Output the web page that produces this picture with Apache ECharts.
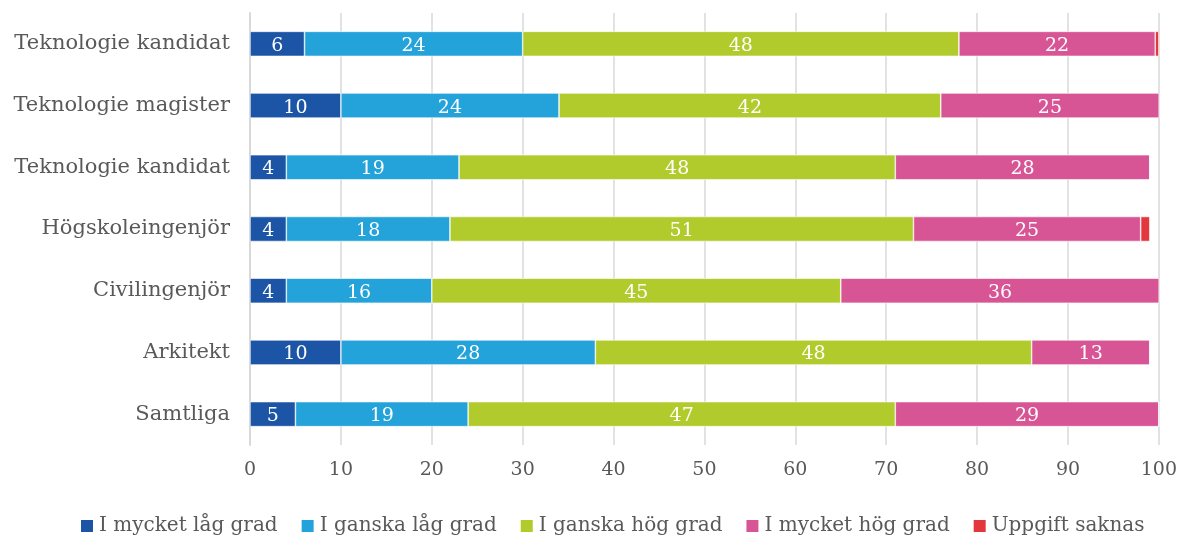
<!DOCTYPE html>
<html>
<head>
    <meta charset="utf-8">
    <title></title>
    <script src="https://cdn.jsdelivr.net/npm/echarts@6/dist/echarts.min.js"></script>
    <style>
        html, body { margin: 0; padding: 0; background: #fff; }
        #main { width: 1180px; height: 537px; }
    </style>
</head>
<body>
<div id="main"></div>
<script type="text/javascript">
    var categories = ['Teknologie kandidat', 'Teknologie magister', 'Teknologie kandidat', 'Högskoleingenjör', 'Civilingenjör', 'Arkitekt', 'Samtliga'];
    var seriesNames = ['I mycket låg grad', 'I ganska låg grad', 'I ganska hög grad', 'I mycket hög grad', 'Uppgift saknas'];
    var mycketLag = [6, 10, 4, 4, 4, 10, 5];
    var ganskaLag = [24, 24, 19, 18, 16, 28, 19];
    var ganskaHog = [48, 42, 48, 51, 45, 48, 47];
    var mycketHog = [21.6, 25, 28, 25, 36, 13, 29];
    var saknas = [0.4, 0, 0, 1, 0, 0, 0];
    var xTicks = [0, 10, 20, 30, 40, 50, 60, 70, 80, 90, 100];

    var colors = ['#1c55a6', '#24a2da', '#b2cb2c', '#d85595', '#e3363d'];
    var font = 'DejaVu Serif';

    function makeSeries(name, data, color, showLabel) {
        return {
            name: name,
            type: 'bar',
            stack: 'total',
            data: data,
            barWidth: 25,
            clip: true,
            itemStyle: { color: color, borderColor: '#fff', borderWidth: 0.6 },
            label: {
                show: showLabel,
                position: 'inside',
                color: '#fff',
                fontFamily: font,
                fontSize: 19,
                offset: [0, 2],
                formatter: function (p) { return Math.round(p.value); }
            }
        };
    }

    var chart = echarts.init(document.getElementById('main'));
    var option = {
        animation: false,
        grid: { left: 250, right: 21, top: 13, bottom: 92 },
        legend: {
            data: seriesNames,
            top: 511,
            left: 74,
            itemWidth: 14,
            itemHeight: 14,
            itemGap: 22,
            icon: 'rect',
            textStyle: { fontFamily: font, fontSize: 20, color: '#595959' }
        },
        xAxis: {
            type: 'value',
            min: 0,
            max: 100,
            interval: 10,
            axisLine: { show: false },
            axisTick: { show: false },
            splitLine: { lineStyle: { color: '#d9d9d9', width: 1.5 } },
            axisLabel: {
                margin: 16,
                color: '#595959',
                fontFamily: font,
                fontSize: 19,
                formatter: function (v) { return xTicks.indexOf(v) >= 0 ? v : ''; }
            }
        },
        yAxis: {
            type: 'category',
            inverse: true,
            data: categories,
            axisLine: { lineStyle: { color: '#d9d9d9', width: 2 } },
            axisTick: { show: false },
            axisLabel: {
                margin: 20,
                color: '#595959',
                fontFamily: font,
                fontSize: 21
            }
        },
        series: [
            makeSeries(seriesNames[0], mycketLag, colors[0], true),
            makeSeries(seriesNames[1], ganskaLag, colors[1], true),
            makeSeries(seriesNames[2], ganskaHog, colors[2], true),
            makeSeries(seriesNames[3], mycketHog, colors[3], true),
            makeSeries(seriesNames[4], saknas, colors[4], false)
        ]
    };
    chart.setOption(option);
    window.onresize = function () { chart.resize(); };
</script>
</body>
</html>
